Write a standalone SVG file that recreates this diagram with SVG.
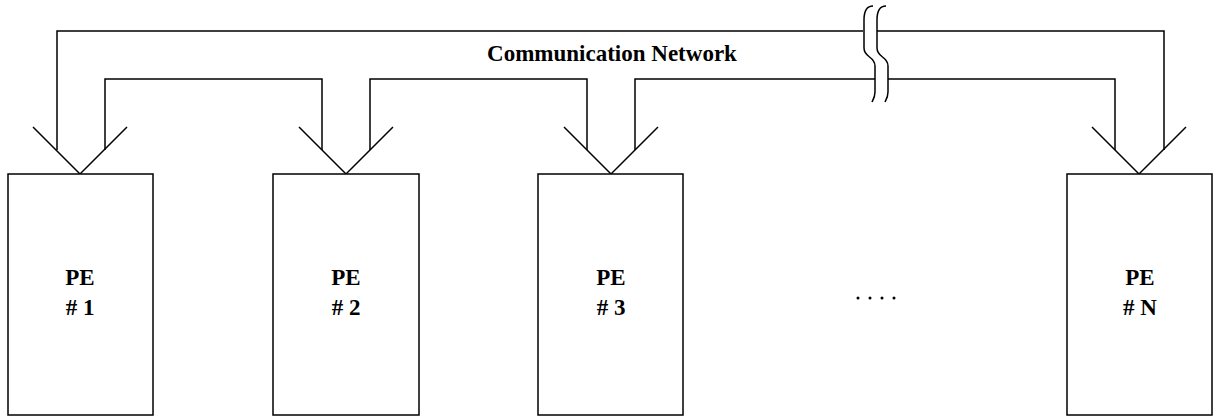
<svg xmlns="http://www.w3.org/2000/svg" width="1217" height="420" viewBox="0 0 1217 420">
<style>
.ln{fill:none;stroke:#000;stroke-width:1.5;stroke-linejoin:miter;stroke-linecap:butt}
.box{fill:#fff;stroke:#000;stroke-width:1.5}
.t{font-family:"Liberation Serif","Times New Roman",serif;font-weight:bold;font-size:23px;fill:#000;text-anchor:middle}
</style>
<rect width="1217" height="420" fill="#fff"/>
<g id="connectors">
<path class="ln" d="M57,150 V31 H863 M877,31 H1164 V150"/>
<path class="ln" d="M105,150 V79 H322 V150"/>
<path class="ln" d="M370,150 V79 H587 V150"/>
<path class="ln" d="M635,150 V79 H875 M888,79 H1115 V150"/>
<path class="ln" d="M873,6 C866,6 864,12 864,20 L864,48 C864,58 875,56 875,66 L875,92 C875,97 873,100 872,102"/>
<path class="ln" d="M886,6 C879,6 877,12 877,20 L877,48 C877,58 888,56 888,66 L888,92 C888,97 886,100 885,102"/>
<text class="t" x="612" y="61" font-size="22.5">Communication Network</text>
</g>
<g id="pe1">
<path class="ln" d="M33,127 L80,174 L127,127"/>
<rect class="box" x="8" y="174" width="145" height="241"/>
<text class="t" x="80" y="285">PE</text>
<text class="t" x="80" y="315"># 1</text>
</g>
<g id="pe2">
<path class="ln" d="M299,127 L346,174 L393,127"/>
<rect class="box" x="273" y="174" width="146" height="241"/>
<text class="t" x="346" y="285">PE</text>
<text class="t" x="346" y="315"># 2</text>
</g>
<g id="pe3">
<path class="ln" d="M564,127 L611,174 L658,127"/>
<rect class="box" x="538" y="174" width="145" height="241"/>
<text class="t" x="611" y="285">PE</text>
<text class="t" x="611" y="315"># 3</text>
</g>
<g id="dots">
<circle cx="858" cy="298" r="1.5"/>
<circle cx="870" cy="298" r="1.5"/>
<circle cx="882" cy="298" r="1.5"/>
<circle cx="894" cy="298" r="1.5"/>
</g>
<g id="peN">
<path class="ln" d="M1092,127 L1139,174 L1186,127"/>
<rect class="box" x="1067" y="174" width="145" height="241"/>
<text class="t" x="1140" y="285">PE</text>
<text class="t" x="1140" y="315"># N</text>
</g>
</svg>
